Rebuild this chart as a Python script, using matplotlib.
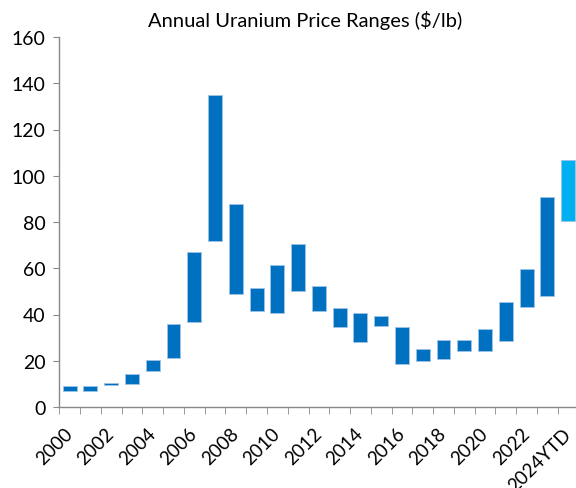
import matplotlib
matplotlib.use("Agg")
import matplotlib.pyplot as plt
import numpy as np

# =========================
# DATA ($/lb, annual low/high)
# =========================
years = ["2000", "2001", "2002", "2003", "2004", "2005", "2006", "2007",
         "2008", "2009", "2010", "2011", "2012", "2013", "2014", "2015",
         "2016", "2017", "2018", "2019", "2020", "2021", "2022", "2023",
         "2024YTD"]
lows = [7.1, 7.1, 9.5, 10.1, 15.4, 21.0, 36.6, 71.9, 48.7, 41.7, 40.6, 50.3,
        41.4, 34.6, 28.3, 35.2, 18.4, 19.8, 20.8, 24.4, 24.4, 28.7, 43.4,
        47.9, 80.6]
highs = [9.2, 9.2, 10.2, 14.4, 20.5, 36.0, 67.2, 134.9, 87.6, 51.3, 61.4,
         70.6, 52.2, 42.8, 40.5, 39.4, 34.5, 24.9, 28.8, 28.8, 33.7, 45.4,
         59.7, 90.7, 106.8]

DARK = "#0070C0"
LIGHT = "#00B0F0"
GREY = "#898989"

plt.rcParams["font.family"] = ["Lato", "DejaVu Sans"]

fig = plt.figure(figsize=(5.76, 4.89), dpi=100)
ax = fig.add_axes([59.3 / 576, 1 - 408 / 489, 519.2 / 576, 370 / 489])

x = np.arange(len(years))
colors = [DARK] * (len(years) - 1) + [LIGHT]
heights = [h - l for h, l in zip(highs, lows)]
ax.bar(x, heights, bottom=lows, width=0.67, color=colors,
       edgecolor="#9DC3E6", linewidth=0.6)

ax.set_xlim(-0.5, len(years) - 0.5)
ax.set_ylim(0, 160)
ax.set_yticks(range(0, 161, 20))
ax.tick_params(axis="y", labelsize=14, length=4, color=GREY, pad=6)

# tick marks between categories, labels on every other category
ax.set_xticks(np.arange(-0.5, len(years), 1), minor=True)
ax.set_xticks(x[::2])
ax.set_xticklabels(years[::2], rotation=45, ha="right", va="center",
                   rotation_mode="anchor", fontsize=13.5)
ax.tick_params(axis="x", which="major", length=0, pad=17)
ax.tick_params(axis="x", which="minor", length=5, color=GREY)

for s in ["top", "right"]:
    ax.spines[s].set_visible(False)
for s in ["left", "bottom"]:
    ax.spines[s].set_color(GREY)
    ax.spines[s].set_linewidth(1)

fig.text(305 / 576, 1 - 20 / 489, "Annual Uranium Price Ranges ($/lb)",
         ha="center", va="center", fontsize=14.5)

fig.savefig("out.png", dpi=100)
